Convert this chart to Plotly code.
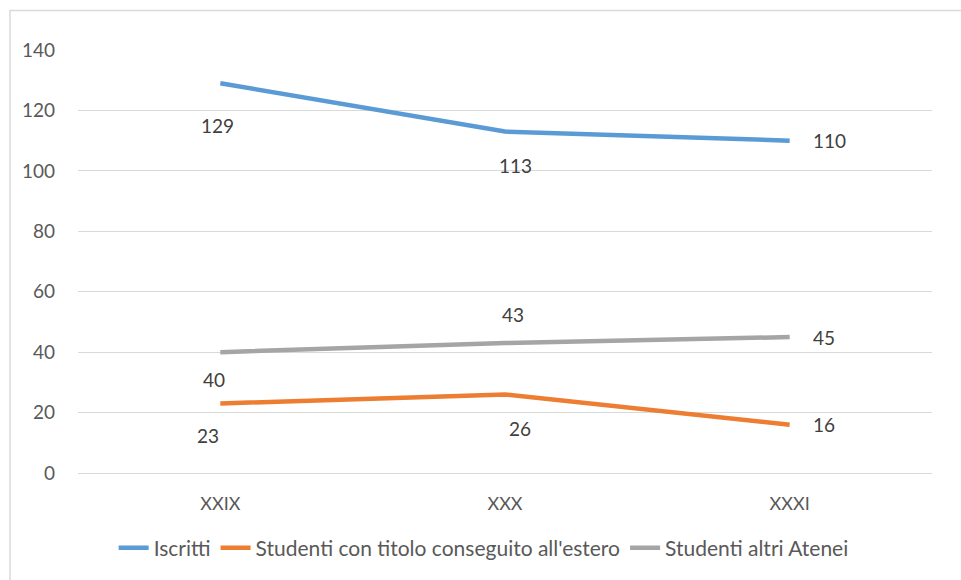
import plotly.graph_objects as go

categories = ["XXIX", "XXX", "XXXI"]
iscritti = [129, 113, 110]
estero = [23, 26, 16]
altri_atenei = [40, 43, 45]
y_ticks = [0, 20, 40, 60, 80, 100, 120, 140]

series = [
    ("Iscritti", iscritti, "#5B9BD5", ["below", "below", "right"]),
    ("Studenti con titolo conseguito all'estero", estero, "#ED7D31", ["below", "below", "right"]),
    ("Studenti altri Atenei", altri_atenei, "#A5A5A5", ["below", "above", "right"]),
]
shift_below = {"Iscritti": [-42, -34], "Studenti con titolo conseguito all'estero": [-32, -34],
               "Studenti altri Atenei": [-27, 29]}
shift_x = {"Iscritti": [-3, 10], "Studenti con titolo conseguito all'estero": [-12, 15],
           "Studenti altri Atenei": [-6, 8]}

FONT = "Lato, 'Open Sans', sans-serif"
fig = go.Figure()
annotations = []
for name, vals, color, pos in series:
    fig.add_trace(go.Scatter(
        x=categories, y=vals, mode="lines", name=name,
        line=dict(color=color, width=4.5), hoverinfo="skip"))
    for i, (c, v) in enumerate(zip(categories, vals)):
        if pos[i] == "right":
            annotations.append(dict(x=c, y=v, text=str(v), showarrow=False,
                                    xanchor="left", yanchor="middle", xshift=21, yshift=0,
                                    font=dict(family=FONT, size=19, color="#404040")))
        else:
            annotations.append(dict(x=c, y=v, text=str(v), showarrow=False,
                                    xanchor="center", yanchor="middle",
                                    yshift=shift_below[name][i], xshift=shift_x[name][i],
                                    font=dict(family=FONT, size=19, color="#404040")))

fig.update_layout(
    width=961, height=580,
    margin=dict(l=78, r=29, t=50, b=106),
    paper_bgcolor="white", plot_bgcolor="white",
    font=dict(family=FONT, size=18, color="#595959"),
    showlegend=True,
    legend=dict(orientation="h", x=0.475, xanchor="center", y=-0.175, yanchor="middle",
                font=dict(family=FONT, size=21, color="#595959"),
                itemwidth=30, tracegroupgap=0),
    annotations=annotations,
    shapes=[dict(type="rect", xref="paper", yref="paper",
                 x0=(10 - 78) / 854, x1=1.2, y0=-0.5, y1=(474 - 10.5) / 424,
                 line=dict(color="#D9D9D9", width=1.5), fillcolor="rgba(0,0,0,0)", layer="below")],
)
fig.update_xaxes(range=[-0.5, 2.5], showgrid=False, showline=False, zeroline=False, ticks="",
                 tickfont=dict(family=FONT, size=18, color="#595959"), ticklabelstandoff=18)
fig.update_yaxes(range=[0, 140], tickvals=y_ticks, showgrid=True, gridcolor="#D9D9D9", gridwidth=1,
                 zeroline=True, zerolinecolor="#D9D9D9", zerolinewidth=1, showline=False, ticks="",
                 tickfont=dict(family=FONT, size=19, color="#595959"), ticklabelstandoff=22)

fig.write_html("out.html")
